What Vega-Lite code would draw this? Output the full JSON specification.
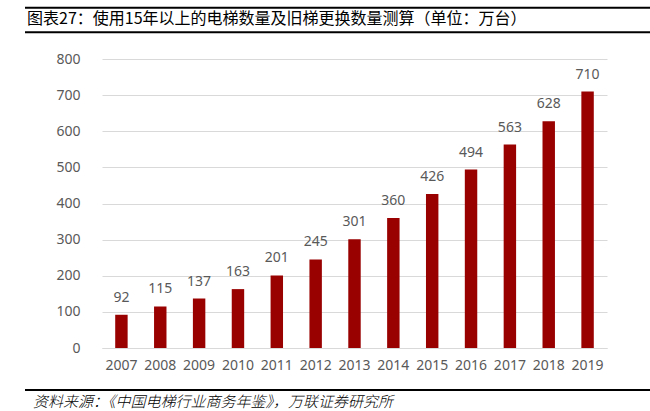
{
  "$schema": "https://vega.github.io/schema/vega-lite/v6.json",
  "width": 505,
  "height": 289,
  "autosize": "none",
  "padding": {"left": 102, "top": 59, "right": 43, "bottom": 63},
  "background": "white",
  "config": {
    "view": {"stroke": null},
    "font": "Noto Sans CJK SC"
  },
  "data": {
    "values": [
      {"year": "2007", "value": 92},
      {"year": "2008", "value": 115},
      {"year": "2009", "value": 137},
      {"year": "2010", "value": 163},
      {"year": "2011", "value": 201},
      {"year": "2012", "value": 245},
      {"year": "2013", "value": 301},
      {"year": "2014", "value": 360},
      {"year": "2015", "value": 426},
      {"year": "2016", "value": 494},
      {"year": "2017", "value": 563},
      {"year": "2018", "value": 628},
      {"year": "2019", "value": 710}
    ]
  },
  "layer": [
    {
      "layer": [
        {
          "mark": {"type": "bar", "color": "#990000"},
          "encoding": {
            "x": {
              "field": "year", "type": "nominal", "sort": null,
              "scale": {"paddingInner": 0.68, "paddingOuter": 0.34},
              "axis": {
                "title": null, "labelAngle": 0, "ticks": false,
                "domainColor": "#D9D9D9", "domainWidth": 1,
                "labelFontSize": 14, "labelColor": "#595959",
                "labelPadding": 10, "labelFont": "Noto Sans"
              }
            },
            "y": {
              "field": "value", "type": "quantitative",
              "scale": {"domain": [0, 800], "nice": false},
              "axis": {
                "title": null, "values": [0,100,200,300,400,500,600,700,800],
                "tickCount": 9, "grid": true,
                "labelOverlap": false,
                "domain": false, "ticks": false,
                "gridColor": "#D9D9D9", "gridWidth": 1,
                "labelFontSize": 14, "labelColor": "#595959",
                "labelPadding": 22, "labelFont": "Noto Sans"
              }
            }
          }
        },
        {
          "mark": {"type": "text", "dy": -17, "fontSize": 14, "color": "#595959", "font": "Noto Sans"},
          "encoding": {
            "x": {"field": "year", "type": "nominal", "sort": null},
            "y": {"field": "value", "type": "quantitative",
              "axis": {
                "title": null, "values": [0,100,200,300,400,500,600,700,800],
                "tickCount": 9, "grid": true,
                "labelOverlap": false,
                "domain": false, "ticks": false,
                "gridColor": "#D9D9D9", "gridWidth": 1,
                "labelFontSize": 14, "labelColor": "#595959",
                "labelPadding": 22, "labelFont": "Noto Sans"
              }},
            "text": {"field": "value", "type": "quantitative"}
          }
        }
      ]
    },
    {
      "data": {"values": [{}]},
      "mark": {"type": "rule", "color": "black", "strokeWidth": 2},
      "encoding": {
        "x": {"datum": -77, "type": "quantitative", "scale": {"domain": [0, 505], "nice": false, "zero": false}, "axis": null},
        "x2": {"datum": 548},
        "y": {"datum": 942, "type": "quantitative", "scale": {"domain": [0, 800], "nice": false}, "axis": null}
      }
    },
    {
      "data": {"values": [{}]},
      "mark": {"type": "rule", "color": "black", "strokeWidth": 2},
      "encoding": {
        "x": {"datum": -77, "type": "quantitative", "scale": {"domain": [0, 505], "nice": false, "zero": false}, "axis": null},
        "x2": {"datum": 548},
        "y": {"datum": 874, "type": "quantitative", "scale": {"domain": [0, 800], "nice": false}, "axis": null}
      }
    },
    {
      "data": {"values": [{}]},
      "mark": {"type": "rule", "color": "black", "strokeWidth": 2},
      "encoding": {
        "x": {"datum": -77, "type": "quantitative", "scale": {"domain": [0, 505], "nice": false, "zero": false}, "axis": null},
        "x2": {"datum": 548},
        "y": {"datum": -116, "type": "quantitative", "scale": {"domain": [0, 800], "nice": false}, "axis": null}
      }
    },
    {
      "data": {"values": [{}]},
      "mark": {"type": "text", "align": "left", "baseline": "middle", "fontSize": 16, "color": "black"},
      "encoding": {
        "x": {"datum": -75, "type": "quantitative", "scale": {"domain": [0, 505], "nice": false, "zero": false}, "axis": null},
        "y": {"datum": 910, "type": "quantitative", "scale": {"domain": [0, 800], "nice": false}, "axis": null},
        "text": {"value": "图表27：使用15年以上的电梯数量及旧梯更换数量测算（单位：万台）"}
      }
    },
    {
      "data": {"values": [{}]},
      "mark": {"type": "text", "align": "left", "baseline": "middle", "fontSize": 15, "color": "black", "fontStyle": "italic", "fontWeight": 300},
      "encoding": {
        "x": {"datum": -69, "type": "quantitative", "scale": {"domain": [0, 505], "nice": false, "zero": false}, "axis": null},
        "y": {"datum": -149, "type": "quantitative", "scale": {"domain": [0, 800], "nice": false}, "axis": null},
        "text": {"value": "资料来源：《中国电梯行业商务年鉴》，万联证券研究所"}
      }
    }
  ],
  "resolve": {"scale": {"x": "independent", "y": "independent"}, "axis": {"x": "independent", "y": "independent"}}
}
